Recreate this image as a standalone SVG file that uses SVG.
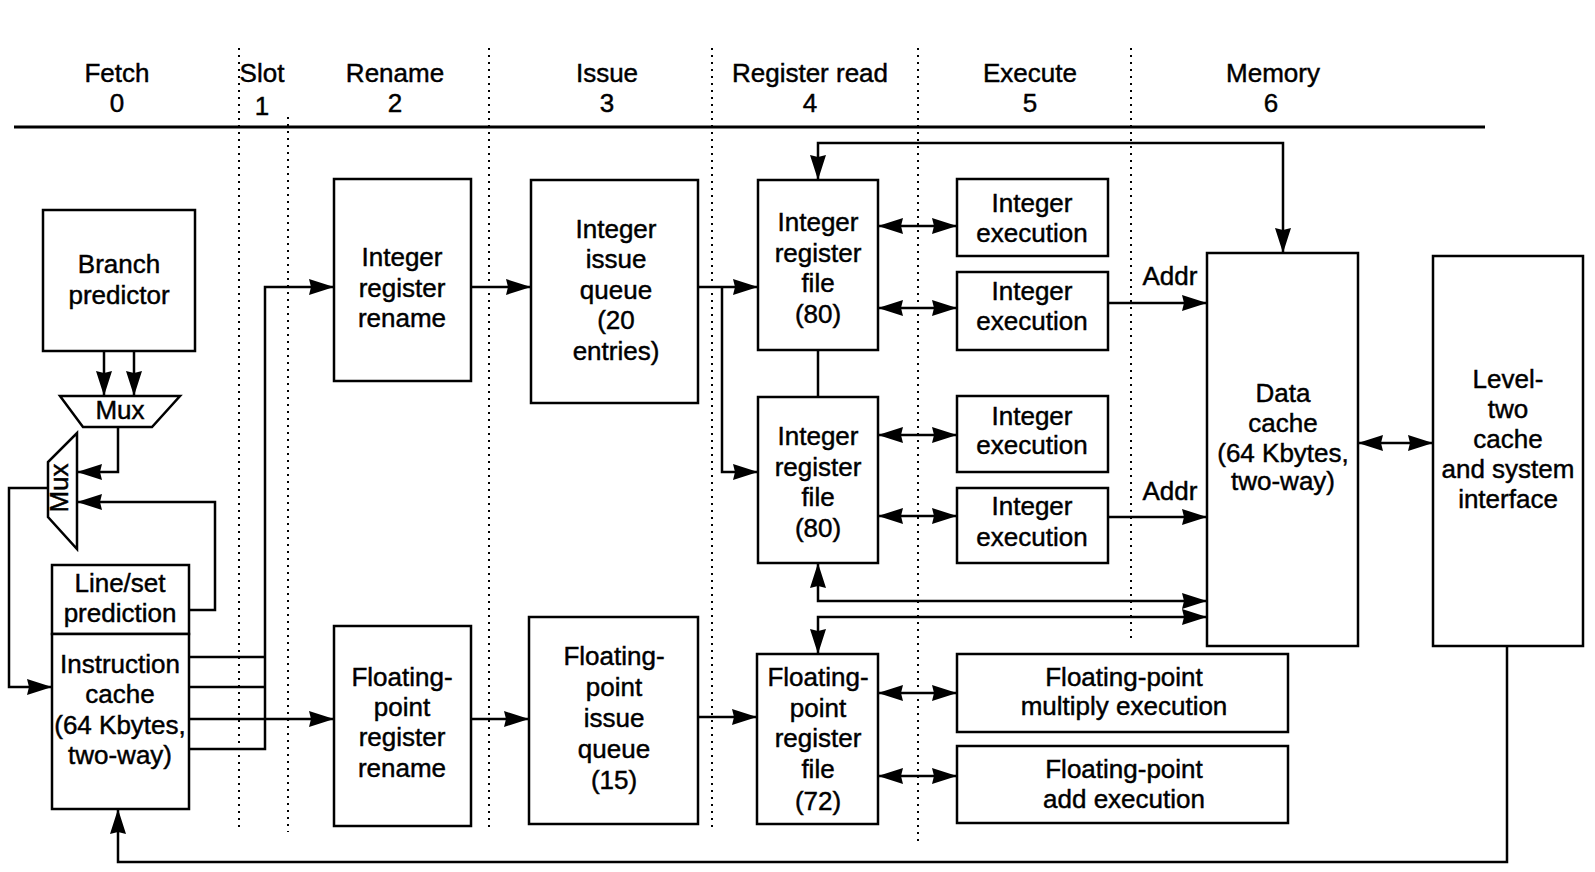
<svg xmlns="http://www.w3.org/2000/svg" width="1595" height="872" viewBox="0 0 1595 872">
<style>
.box{fill:#fff;stroke:#000;stroke-width:2.5}
.t{font-family:"Liberation Sans",Arial,Helvetica,sans-serif;font-size:26px;fill:#000;stroke:#000;stroke-width:0.45;text-anchor:middle}
.c{fill:none;stroke:#000;stroke-width:2.5}
.dot{fill:none;stroke:#000;stroke-width:2;stroke-dasharray:2 5}
.hd{fill:none;stroke:#000;stroke-width:3}
</style>
<defs>
<marker id="ah" markerUnits="userSpaceOnUse" markerWidth="26" markerHeight="18" viewBox="0 0 26 18" refX="25" refY="9" orient="auto-start-reverse">
<path d="M0,1 L25,9 L0,17 L2,9 z" fill="#000"/>
</marker>
</defs>
<rect width="1595" height="872" fill="#fff"/>

<g id="stages">
<line class="hd" x1="14" y1="127" x2="1485" y2="127"/>
<line class="dot" x1="239" y1="48" x2="239" y2="832"/>
<line class="dot" x1="288" y1="117" x2="288" y2="832"/>
<line class="dot" x1="489" y1="48" x2="489" y2="832"/>
<line class="dot" x1="712" y1="48" x2="712" y2="830"/>
<line class="dot" x1="918" y1="48" x2="918" y2="843"/>
<line class="dot" x1="1131" y1="48" x2="1131" y2="643"/>
<text class="t" x="117" y="82">Fetch</text><text class="t" x="117" y="112">0</text>
<text class="t" x="262" y="82">Slot</text><text class="t" x="262" y="115">1</text>
<text class="t" x="395" y="82">Rename</text><text class="t" x="395" y="112">2</text>
<text class="t" x="607" y="82">Issue</text><text class="t" x="607" y="112">3</text>
<text class="t" x="810" y="82">Register read</text><text class="t" x="810" y="112">4</text>
<text class="t" x="1030" y="82">Execute</text><text class="t" x="1030" y="112">5</text>
<text class="t" x="1273" y="82">Memory</text><text class="t" x="1271" y="112">6</text>
</g>

<g id="connectors" class="c">
<path d="M104,351 V396" marker-end="url(#ah)"/>
<path d="M134,351 V396" marker-end="url(#ah)"/>
<path d="M118,427 V472 H77" marker-end="url(#ah)"/>
<path d="M189,610 H215 V502 H77" marker-end="url(#ah)"/>
<path d="M48,488 H9 V687 H52" marker-end="url(#ah)"/>
<path d="M189,657 H265 M189,687 H265"/>
<path d="M189,749 H265 V287 H334" marker-end="url(#ah)"/>
<path d="M189,719 H334" marker-end="url(#ah)"/>
<path d="M471,287 H531" marker-end="url(#ah)"/>
<path d="M471,719 H529" marker-end="url(#ah)"/>
<path d="M698,287 H758" marker-end="url(#ah)"/>
<path d="M722,287 V472 H758" marker-end="url(#ah)"/>
<path d="M698,717 H757" marker-end="url(#ah)"/>
<path d="M878,226 H957" marker-start="url(#ah)" marker-end="url(#ah)"/>
<path d="M878,308 H957" marker-start="url(#ah)" marker-end="url(#ah)"/>
<path d="M878,435 H957" marker-start="url(#ah)" marker-end="url(#ah)"/>
<path d="M878,516 H957" marker-start="url(#ah)" marker-end="url(#ah)"/>
<path d="M878,693 H957" marker-start="url(#ah)" marker-end="url(#ah)"/>
<path d="M878,776 H957" marker-start="url(#ah)" marker-end="url(#ah)"/>
<path d="M818,350 V397"/>
<path d="M818,180 V143 H1283 V253" marker-start="url(#ah)" marker-end="url(#ah)"/>
<path d="M1108,303 H1207" marker-end="url(#ah)"/>
<path d="M1108,517 H1207" marker-end="url(#ah)"/>
<path d="M818,563 V601 H1207" marker-start="url(#ah)" marker-end="url(#ah)"/>
<path d="M818,654 V617 H1207" marker-start="url(#ah)" marker-end="url(#ah)"/>
<path d="M1358,443 H1433" marker-start="url(#ah)" marker-end="url(#ah)"/>
<path d="M1507,646 V862 H118 V809" marker-end="url(#ah)"/>
</g>
<g id="addr-labels">
<text class="t" x="1170" y="285">Addr</text>
<text class="t" x="1170" y="500">Addr</text>
</g>

<g id="branch-predictor">
<rect class="box" x="43" y="210" width="152" height="141"/>
<text class="t" x="119" y="273">Branch</text>
<text class="t" x="119" y="304">predictor</text>
</g>
<g id="mux1">
<polygon class="box" points="60,396 180,396 152,427 83,427"/>
<text class="t" x="120" y="419">Mux</text>
</g>
<g id="mux2">
<polygon class="box" points="77,433 77,549 48,517 48,462"/>
<text class="t" transform="translate(68,488) rotate(-90)">Mux</text>
</g>
<g id="line-set-prediction">
<rect class="box" x="52" y="565" width="137" height="69"/>
<text class="t" x="120" y="592">Line/set</text>
<text class="t" x="120" y="622">prediction</text>
</g>
<g id="instruction-cache">
<rect class="box" x="52" y="634" width="137" height="175"/>
<text class="t" x="120" y="673">Instruction</text>
<text class="t" x="120" y="703">cache</text>
<text class="t" x="120" y="734">(64 Kbytes,</text>
<text class="t" x="120" y="764">two-way)</text>
</g>
<g id="int-rename">
<rect class="box" x="334" y="179" width="137" height="202"/>
<text class="t" x="402" y="266">Integer</text>
<text class="t" x="402" y="297">register</text>
<text class="t" x="402" y="327">rename</text>
</g>
<g id="fp-rename">
<rect class="box" x="334" y="626" width="137" height="200"/>
<text class="t" x="402" y="686">Floating-</text>
<text class="t" x="402" y="716">point</text>
<text class="t" x="402" y="746">register</text>
<text class="t" x="402" y="777">rename</text>
</g>
<g id="int-issue-queue">
<rect class="box" x="531" y="180" width="167" height="223"/>
<text class="t" x="616" y="238">Integer</text>
<text class="t" x="616" y="268">issue</text>
<text class="t" x="616" y="299">queue</text>
<text class="t" x="616" y="329">(20</text>
<text class="t" x="616" y="360">entries)</text>
</g>
<g id="fp-issue-queue">
<rect class="box" x="529" y="617" width="169" height="207"/>
<text class="t" x="614" y="665">Floating-</text>
<text class="t" x="614" y="696">point</text>
<text class="t" x="614" y="727">issue</text>
<text class="t" x="614" y="758">queue</text>
<text class="t" x="614" y="789">(15)</text>
</g>
<g id="int-regfile-1">
<rect class="box" x="758" y="180" width="120" height="170"/>
<text class="t" x="818" y="231">Integer</text>
<text class="t" x="818" y="262">register</text>
<text class="t" x="818" y="292">file</text>
<text class="t" x="818" y="323">(80)</text>
</g>
<g id="int-regfile-2">
<rect class="box" x="758" y="397" width="120" height="166"/>
<text class="t" x="818" y="445">Integer</text>
<text class="t" x="818" y="476">register</text>
<text class="t" x="818" y="506">file</text>
<text class="t" x="818" y="537">(80)</text>
</g>
<g id="fp-regfile">
<rect class="box" x="757" y="654" width="121" height="170"/>
<text class="t" x="818" y="686">Floating-</text>
<text class="t" x="818" y="717">point</text>
<text class="t" x="818" y="747">register</text>
<text class="t" x="818" y="778">file</text>
<text class="t" x="818" y="810">(72)</text>
</g>
<g id="int-exec-1">
<rect class="box" x="957" y="179" width="151" height="77"/>
<text class="t" x="1032" y="212">Integer</text>
<text class="t" x="1032" y="242">execution</text>
</g>
<g id="int-exec-2">
<rect class="box" x="957" y="272" width="151" height="78"/>
<text class="t" x="1032" y="300">Integer</text>
<text class="t" x="1032" y="330">execution</text>
</g>
<g id="int-exec-3">
<rect class="box" x="957" y="396" width="151" height="76"/>
<text class="t" x="1032" y="425">Integer</text>
<text class="t" x="1032" y="454">execution</text>
</g>
<g id="int-exec-4">
<rect class="box" x="957" y="488" width="151" height="75"/>
<text class="t" x="1032" y="515">Integer</text>
<text class="t" x="1032" y="546">execution</text>
</g>
<g id="fp-mult-exec">
<rect class="box" x="957" y="654" width="331" height="78"/>
<text class="t" x="1124" y="686">Floating-point</text>
<text class="t" x="1124" y="715">multiply execution</text>
</g>
<g id="fp-add-exec">
<rect class="box" x="957" y="746" width="331" height="77"/>
<text class="t" x="1124" y="778">Floating-point</text>
<text class="t" x="1124" y="808">add execution</text>
</g>
<g id="data-cache">
<rect class="box" x="1207" y="253" width="151" height="393"/>
<text class="t" x="1283" y="402">Data</text>
<text class="t" x="1283" y="432">cache</text>
<text class="t" x="1283" y="462">(64 Kbytes,</text>
<text class="t" x="1283" y="490">two-way)</text>
</g>
<g id="level-two-cache">
<rect class="box" x="1433" y="256" width="150" height="390"/>
<text class="t" x="1508" y="388">Level-</text>
<text class="t" x="1508" y="418">two</text>
<text class="t" x="1508" y="448">cache</text>
<text class="t" x="1508" y="478">and system</text>
<text class="t" x="1508" y="508">interface</text>
</g>
</svg>
